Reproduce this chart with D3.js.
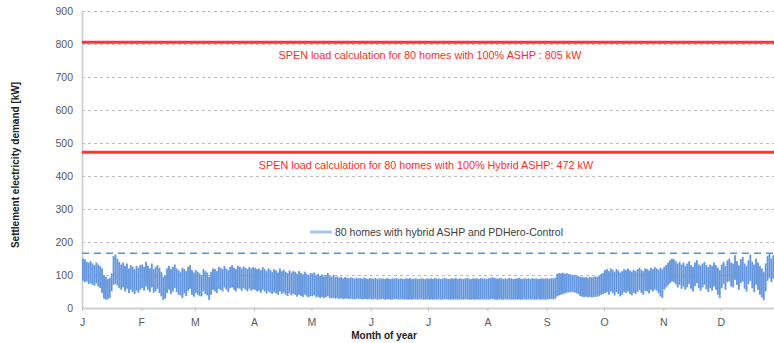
<!DOCTYPE html>
<html>
<head>
<meta charset="utf-8">
<script src="https://cdn.jsdelivr.net/npm/d3@7"></script>
<style>
  body { margin: 0; background: #fff; }
  svg { display: block; font-family: "Liberation Sans", Arial, sans-serif; }
  .grid line { stroke: #bdbdbd; stroke-dasharray: 3,3; }
  .grid .domain { display: none; }
  .axis text { fill: #595959; font-size: 10.5px; }
  .axis .domain { stroke: #d0d0d0; stroke-width: 1.8; }
  .axis line { stroke: #bfbfbf; }
  .axis-title { font-size: 10px; font-weight: bold; fill: #222; }
  .ref-label { fill: #ff2a2a; font-size: 10.8px; text-anchor: middle; }
</style>
</head>
<body>
<svg id="chart"></svg>
<script>
var monthLabels = ["J", "F", "M", "A", "M", "J", "J", "A", "S", "O", "N", "D"];
var yTicks = [0, 100, 200, 300, 400, 500, 600, 700, 800, 900];

// reference loads (kW)
var refLoads = [
  { value: 805, label: "SPEN load calculation for 80 homes with 100% ASHP : 805 kW" },
  { value: 472, label: "SPEN load calculation for 80 homes with 100% Hybrid ASHP: 472 kW" },
];
var peakLine = 166;
var seriesName = "80 homes with hybrid ASHP and PDHero-Control";

// daily max demand (kW), one row per month
var dailyHigh = [
  [150,148,140,138,142,135,130,138,132,128,120,100,95,88,92,105,158,162,150,140,132,138,128,135,120,130,125,118,128,122,130],
  [132,125,140,128,120,135,118,125,130,122,110,95,100,120,128,118,125,132,120,115,110,122,118,112,125,130,115,108],
  [115,110,105,100,118,112,108,95,110,120,118,112,125,122,118,128,120,115,125,130,122,118,128,125,120,126,122,118,125,120,124],
  [122,118,120,115,124,118,112,120,116,110,118,114,108,120,112,116,110,106,114,108,112,110,104,112,106,102,110,104,100,106],
  [105,108,100,104,98,102,96,100,106,98,95,100,94,96,92,95,90,94,92,90,93,91,89,92,90,91,89,92,90,88,91],
  [90,89,91,88,90,89,90,88,91,89,88,90,89,91,88,90,89,88,90,89,91,88,89,90,88,89,90,89,88,90],
  [89,90,88,91,89,90,88,89,91,90,88,89,90,89,91,88,90,89,88,90,91,89,88,90,89,90,88,91,89,90,88],
  [90,91,93,92,90,89,91,90,88,90,89,91,90,88,89,90,91,89,88,90,89,90,88,91,89,90,88,89,90,89,90],
  [90,89,91,90,92,104,106,105,107,104,106,103,102,100,101,99,98,94,95,93,94,92,95,93,94,96,95,97,104,106],
  [115,118,112,120,116,110,118,114,108,112,118,115,120,114,110,116,112,118,122,116,112,120,118,114,122,118,124,120,116,122,118],
  [125,130,138,145,150,148,142,135,140,132,138,128,135,142,130,125,138,145,132,128,135,140,130,125,132,128,138,130,122,115],
  [132,140,128,145,150,138,135,160,142,130,148,155,135,128,145,162,140,132,150,138,128,120,110,135,158,165,150,160,162,155,165],
];

// daily min demand (kW), one row per month
var dailyLow = [
  [82,78,80,72,75,70,68,74,65,60,45,28,25,26,30,50,70,72,68,60,55,62,50,58,45,55,48,42,52,46,55],
  [60,52,65,55,48,62,46,50,58,45,35,24,28,45,55,42,50,60,48,40,38,30,44,36,52,58,40,34],
  [45,40,36,35,50,42,38,24,40,55,50,45,58,55,50,62,55,48,60,62,55,50,60,58,52,60,55,50,58,52,56],
  [55,50,52,46,55,50,44,50,46,42,48,44,40,50,42,46,40,36,44,38,42,40,34,40,36,33,40,35,32,36],
  [35,38,32,34,30,33,30,32,36,30,29,31,28,30,27,29,27,28,28,27,28,27,26,28,27,27,26,27,27,26,27],
  [26,26,27,25,26,26,27,25,26,26,25,26,26,27,25,26,26,25,26,25,26,25,26,26,25,26,26,25,25,26],
  [25,26,25,26,25,26,25,25,26,26,25,25,26,25,26,25,26,25,25,26,26,25,25,26,25,26,25,26,25,26,25],
  [25,26,27,26,25,25,26,25,25,26,25,26,25,25,26,25,26,25,25,26,25,26,25,26,25,25,26,25,25,26,25],
  [26,26,27,26,28,35,38,40,42,44,46,47,48,48,47,45,42,36,34,33,34,32,33,32,33,34,34,36,40,42],
  [45,48,40,50,45,38,48,42,35,40,48,45,50,42,38,46,42,48,55,46,40,52,50,44,55,50,56,52,45,35,30],
  [55,62,68,75,80,78,72,62,70,58,65,55,62,72,58,50,66,75,60,52,62,70,56,48,60,52,65,55,40,30],
  [60,72,55,78,80,65,62,85,70,55,75,80,58,50,72,82,60,48,70,55,40,32,24,50,82,90,78,88,95,85,100],
];

var width = 774;
var height = 343;
var margins = { top: 11, right: -6, bottom: 35, left: 82 };

var svg = d3.select("#chart").attr("width", width).attr("height", height);

var yearStart = new Date(Date.UTC(2019, 0, 1));
var yearEnd = new Date(Date.UTC(2020, 0, 1));

var xScale = d3.scaleUtc()
  .domain([yearStart, yearEnd])
  .range([margins.left, width - margins.right]);

var yScale = d3.scaleLinear()
  .domain([0, 900])
  .range([height - margins.bottom, margins.top]);

// build the daily table
var days = [];
dailyHigh.forEach(function (month, m) {
  month.forEach(function (hi, d) {
    days.push({
      date: new Date(Date.UTC(2019, m, d + 1)),
      high: hi,
      low: dailyLow[m][d],
    });
  });
});

// grid
svg.append("g")
  .attr("class", "grid")
  .attr("transform", "translate(" + margins.left + ",0)")
  .call(d3.axisLeft(yScale).tickValues(yTicks.slice(1)).tickSize(-(width - margins.left)).tickFormat(""));

// y axis
var yAxis = svg.append("g")
  .attr("class", "axis y")
  .attr("transform", "translate(" + margins.left + ",0)")
  .call(d3.axisLeft(yScale).tickValues(yTicks).tickSize(0).tickPadding(9));
yAxis.selectAll(".tick line").remove();

// x axis
var monthStarts = d3.utcMonths(yearStart, yearEnd);
svg.append("g")
  .attr("class", "axis x")
  .attr("transform", "translate(0," + yScale(0) + ")")
  .call(d3.axisBottom(xScale)
    .tickValues(monthStarts)
    .tickSize(3)
    .tickSizeOuter(0)
    .tickPadding(8)
    .tickFormat(function (d) { return monthLabels[d.getUTCMonth()]; }));

// daily demand range
var dayWidth = xScale(days[1].date) - xScale(days[0].date);
var bars = svg.append("g").attr("class", "demand");
bars.selectAll("rect")
  .data(days)
  .enter()
  .append("rect")
  .attr("x", d => xScale(d.date))
  .attr("width", dayWidth)
  .attr("y", d => yScale(d.high))
  .attr("height", d => yScale(d.low) - yScale(d.high))
  .attr("fill", "#73a2e2");
bars.selectAll("line")
  .data(days)
  .enter()
  .append("line")
  .attr("x1", d => xScale(d.date) + dayWidth / 2)
  .attr("x2", d => xScale(d.date) + dayWidth / 2)
  .attr("y1", d => yScale(d.high) + 1)
  .attr("y2", d => yScale(d.low) - 1)
  .attr("stroke", "#5d91da")
  .attr("stroke-width", 0.8);

// peak dashed line
svg.append("line")
  .attr("x1", margins.left)
  .attr("x2", width)
  .attr("y1", yScale(peakLine))
  .attr("y2", yScale(peakLine))
  .attr("stroke", "#4a9be0")
  .attr("stroke-width", 1.6)
  .attr("stroke-dasharray", "7,5");

// SPEN reference lines
svg.append("g")
  .selectAll("line")
  .data(refLoads)
  .enter()
  .append("line")
  .attr("x1", margins.left)
  .attr("x2", width)
  .attr("y1", d => yScale(d.value))
  .attr("y2", d => yScale(d.value))
  .attr("stroke", "#ff3333")
  .attr("stroke-width", 3);

svg.append("g")
  .selectAll("text")
  .data(refLoads)
  .enter()
  .append("text")
  .attr("class", "ref-label")
  .attr("x", (d, i) => i === 0 ? 430 : 426)
  .attr("y", d => yScale(d.value) + 17)
  .text(d => d.label);

// legend
var legend = svg.append("g").attr("transform", "translate(310," + 232 + ")");
legend.append("line")
  .attr("x1", 0).attr("x2", 22)
  .attr("stroke", "#a9c6ec")
  .attr("stroke-width", 3);
legend.append("text")
  .attr("x", 25)
  .attr("y", 3.5)
  .attr("font-size", "10.5px")
  .attr("fill", "#404040")
  .text(seriesName);

// axis titles
svg.append("text")
  .attr("class", "axis-title")
  .attr("x", 384)
  .attr("y", 339)
  .attr("text-anchor", "middle")
  .text("Month of year");

svg.append("text")
  .attr("class", "axis-title")
  .attr("transform", "translate(19," + 165 + ") rotate(-90)")
  .attr("text-anchor", "middle")
  .text("Settlement electricity demand [kW]");
</script>
</body>
</html>
